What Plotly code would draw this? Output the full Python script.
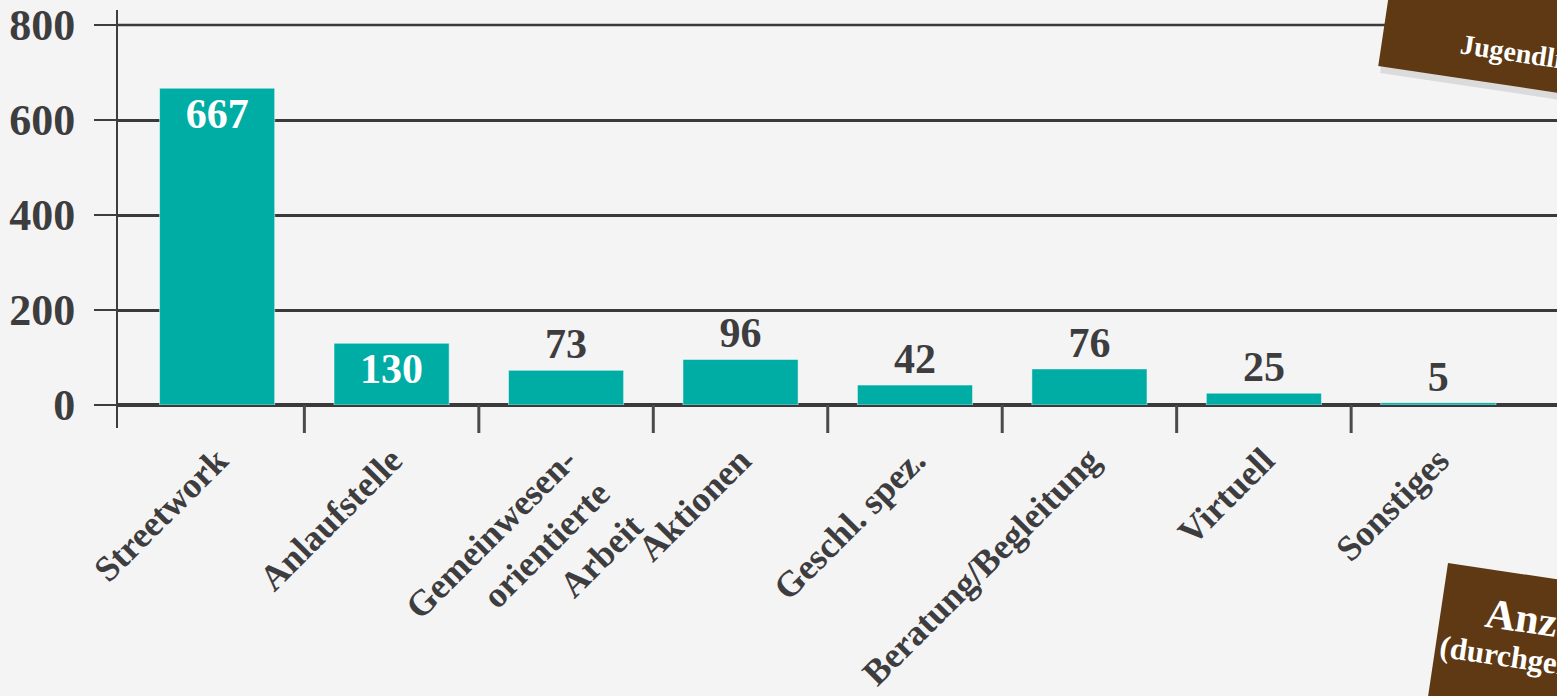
import math
import plotly.graph_objects as go

categories = ["Streetwork", "Anlaufstelle", "Gemeinwesen-<br>orientierte<br>Arbeit", "Aktionen",
              "Geschl. spez.", "Beratung/Begleitung", "Virtuell", "Sonstiges"]
values = [667, 130, 73, 96, 42, 76, 25, 5]
text_positions = ["inside", "inside", "outside", "outside", "outside", "outside", "outside", "outside"]
y_ticks = [0, 200, 400, 600, 800]

W, H = 1557, 696
L, R, T, B = 117, 0, 25, 291
PW, PH = W - L - R, H - T - B

def px(x):
    return (x - L) / PW

def py(y):
    return (H - B - y) / PH

DARK = "#3d3d40"
LINE = "#3a3a3a"
TEAL = "#00ada5"
BROWN = "#5e3913"
FONT = "Liberation Serif"

fig = go.Figure()
fig.add_trace(go.Bar(
    x=categories, y=values, width=0.66,
    marker=dict(color=TEAL, line=dict(color="rgba(255,255,255,0.5)", width=1)),
    text=[str(v) for v in values], textposition=text_positions,
    insidetextanchor="end",
    insidetextfont=dict(family=FONT, size=42, color="white", weight="bold"),
    outsidetextfont=dict(family=FONT, size=42, color=DARK, weight="bold"),
    cliponaxis=False,
))

shapes = []
# top gridline (at the range edge, drawn unclipped)
shapes.append(dict(type="line", xref="paper", yref="paper", x0=0, x1=1, y0=1, y1=1,
                   line=dict(color=LINE, width=2.5), layer="below"))
# y axis line (sketch style, extends beyond plot)
shapes.append(dict(type="line", xref="paper", yref="paper", x0=0, x1=0,
                   y0=py(428), y1=py(10), line=dict(color=DARK, width=2)))
# category separator ticks below the baseline
for i in range(len(categories) - 1):
    shapes.append(dict(type="line", xref="x", yref="paper", x0=i + 0.5, x1=i + 0.5,
                       y0=py(405), y1=py(433), line=dict(color="#4a4a4a", width=3)))

a = math.radians(8.5)
c, s = math.cos(a), math.sin(a)
def rect_path(x0, y0, w, h):
    pts = [(x0, y0), (x0 + w * c, y0 + w * s), (x0 + w * c - h * s, y0 + w * s + h * c), (x0 - h * s, y0 + h * c)]
    return "M " + " L ".join(f"{px(p[0]):.5f},{py(p[1]):.5f}" for p in pts) + " Z"

shapes.append(dict(type="path", xref="paper", yref="paper", path=rect_path(1394, -20, 320, 94),
                   fillcolor="rgba(0,0,0,0.10)", line=dict(width=0)))
shapes.append(dict(type="path", xref="paper", yref="paper", path=rect_path(1392, -26, 320, 93),
                   fillcolor=BROWN, line=dict(width=0)))
shapes.append(dict(type="path", xref="paper", yref="paper", path=rect_path(1448, 563, 320, 200),
                   fillcolor=BROWN, line=dict(width=0)))

annotations = [
    dict(xref="paper", yref="paper", x=px(1456), y=py(54), xanchor="left", yanchor="middle",
         text="<b>Jugendliche</b>", showarrow=False, textangle=8.5,
         font=dict(family=FONT, size=28, color="white")),
    dict(xref="paper", yref="paper", x=px(1480), y=py(622), xanchor="left", yanchor="middle",
         text="<b>Anzahl</b>", showarrow=False, textangle=8.5,
         font=dict(family=FONT, size=42, color="white")),
    dict(xref="paper", yref="paper", x=px(1435), y=py(660), xanchor="left", yanchor="middle",
         text="<b>(durchgeführt)</b>", showarrow=False, textangle=8.5,
         font=dict(family=FONT, size=31, color="white")),
]

fig.update_layout(
    width=W, height=H,
    margin=dict(l=L, r=R, t=T, b=B, pad=0),
    paper_bgcolor="#f4f4f4", plot_bgcolor="rgba(0,0,0,0)",
    showlegend=False,
    shapes=shapes, annotations=annotations,
    font=dict(family=FONT, color=DARK),
)
fig.update_xaxes(
    range=[-0.574, 7.68], type="category",
    tickangle=-45, ticks="", ticklabelstandoff=26,
    tickfont=dict(family=FONT, size=36, color=DARK, weight="bold"),
    showgrid=False, showline=False, zeroline=False, automargin=False,
)
fig.update_yaxes(
    range=[0, 800], tickvals=y_ticks, ticks="outside", ticklen=22, tickwidth=2, tickcolor=DARK,
    tickfont=dict(family=FONT, size=44, color=DARK, weight="bold"), ticklabelstandoff=10,
    showgrid=True, gridcolor=LINE, gridwidth=2.5,
    zeroline=True, zerolinecolor=LINE, zerolinewidth=4,
    showline=False, automargin=False,
)
fig.write_html("out.html")
